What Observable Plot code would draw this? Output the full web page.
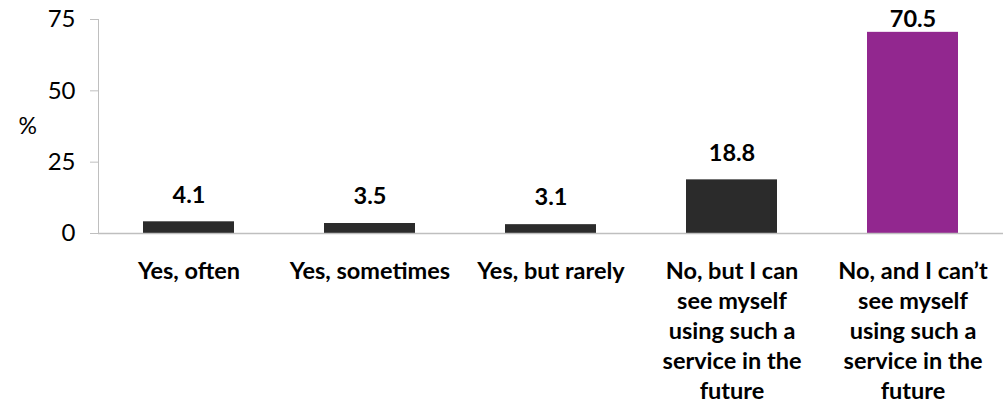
<!DOCTYPE html>
<html>
<head>
<meta charset="utf-8">
<script src="https://cdn.jsdelivr.net/npm/d3@7"></script>
<script src="https://cdn.jsdelivr.net/npm/@observablehq/plot@0.6"></script>
<style>
  html, body { margin: 0; padding: 0; background: #fff; }
  #chart { width: 1003px; height: 409px; overflow: hidden; }
  svg { font-family: Lato, "Open Sans", sans-serif; }
</style>
</head>
<body>
<div id="chart"></div>
<script>
const categories = [
  "Yes, often",
  "Yes, sometimes",
  "Yes, but rarely",
  "No, but I can\nsee myself\nusing such a\nservice in the\nfuture",
  "No, and I can\u2019t\nsee myself\nusing such a\nservice in the\nfuture"
];
const values = [4.1, 3.5, 3.1, 18.8, 70.5];
const barColors = ["#2b2b2b", "#2b2b2b", "#2b2b2b", "#2b2b2b", "#92278f"];
const yTicks = [0, 25, 50, 75];

const data = categories.map((c, i) => ({category: c, value: values[i], color: barColors[i]}));

const chart = Plot.plot({
  width: 1003,
  height: 409,
  marginLeft: 98,
  marginRight: 0,
  marginTop: 19,
  marginBottom: 176,
  style: {fontFamily: "Lato, 'Open Sans', sans-serif", background: "#fff", color: "#000"},
  x: {domain: categories, paddingInner: 0.5, paddingOuter: 0.25},
  y: {domain: [0, 75]},
  marks: [
    Plot.axisY({
      ticks: yTicks, tickSize: 8, tickPadding: 15, stroke: "#bfbfbf",
      fontSize: 24, fill: "#000", label: null
    }),
    Plot.frame({anchor: "left", stroke: "#bfbfbf"}),
    Plot.axisX({
      tickSize: 0, tickPadding: 24, fontSize: 23.5, fontWeight: "bold",
      fill: "#000", lineHeight: 30 / 23.5, label: null
    }),
    Plot.barY(data, {x: "category", y: "value", fill: "color"}),
    Plot.ruleY([0], {stroke: "#bfbfbf", strokeWidth: 1.5}),
    Plot.text(data, {
      x: "category",
      y: d => Math.min(d.value + 9.4, 75),
      text: d => d.value.toFixed(1),
      fontSize: 23.5, fontWeight: "bold", fill: "#000", lineAnchor: "middle"
    }),
    Plot.text(["%"], {frameAnchor: "left", dx: -80, fontSize: 23, fill: "#000"})
  ]
});
document.getElementById("chart").appendChild(chart);
</script>
</body>
</html>
